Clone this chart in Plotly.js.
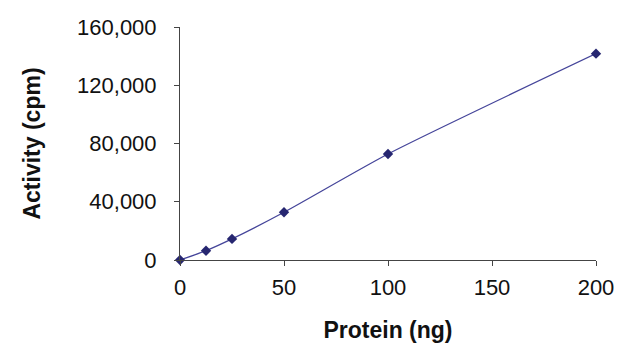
<!DOCTYPE html>
<html><head><meta charset="utf-8">
<script src="https://cdn.plot.ly/plotly-3.0.1.min.js"></script>
<style>html,body{margin:0;padding:0;background:#fff}#chart{width:640px;height:352px}</style>
</head><body><div id="chart"></div>
<script>
var protein = [0, 12.5, 25, 50, 100, 200];
var activity = [0, 6400, 14500, 32800, 72800, 141700];
var xTicks = [0, 50, 100, 150, 200];
var yTicks = [0, 40000, 80000, 120000, 160000];
var yTickText = ['0', '40,000', '80,000', '120,000', '160,000'];

var trace = {
  x: protein, y: activity, type: 'scatter', mode: 'lines+markers',
  line: {color: '#45459a', width: 1.3, shape: 'spline', smoothing: 0.6},
  marker: {symbol: 'diamond', size: 8, color: '#262670'},
  cliponaxis: false, hoverinfo: 'none'
};
var layout = {
  width: 640, height: 352,
  margin: {l: 180, r: 44, t: 27, b: 92},
  paper_bgcolor: '#fff', plot_bgcolor: '#fff',
  showlegend: false,
  font: {family: 'Liberation Sans, Arial, sans-serif', color: '#111'},
  xaxis: {
    range: [0, 200], tickvals: xTicks, ticktext: xTicks.map(String),
    showgrid: false, zeroline: false, showline: true, linecolor: '#444', linewidth: 1,
    ticks: 'outside', ticklen: 5, tickcolor: '#444', tickfont: {size: 22},
    ticklabelstandoff: 3,
    title: {text: 'Protein (ng)', font: {size: 23, weight: 'bold'}, standoff: 22}
  },
  yaxis: {
    range: [0, 160000], tickvals: yTicks, ticktext: yTickText,
    showgrid: false, zeroline: false, showline: true, linecolor: '#444', linewidth: 1,
    ticks: 'outside', ticklen: 5, tickcolor: '#444', tickfont: {size: 22},
    ticklabelstandoff: 13,
    title: {text: 'Activity (cpm)', font: {size: 23, weight: 'bold'}, standoff: 30}
  }
};
Plotly.newPlot('chart', [trace], layout, {staticPlot: true, displayModeBar: false});
</script></body></html>
